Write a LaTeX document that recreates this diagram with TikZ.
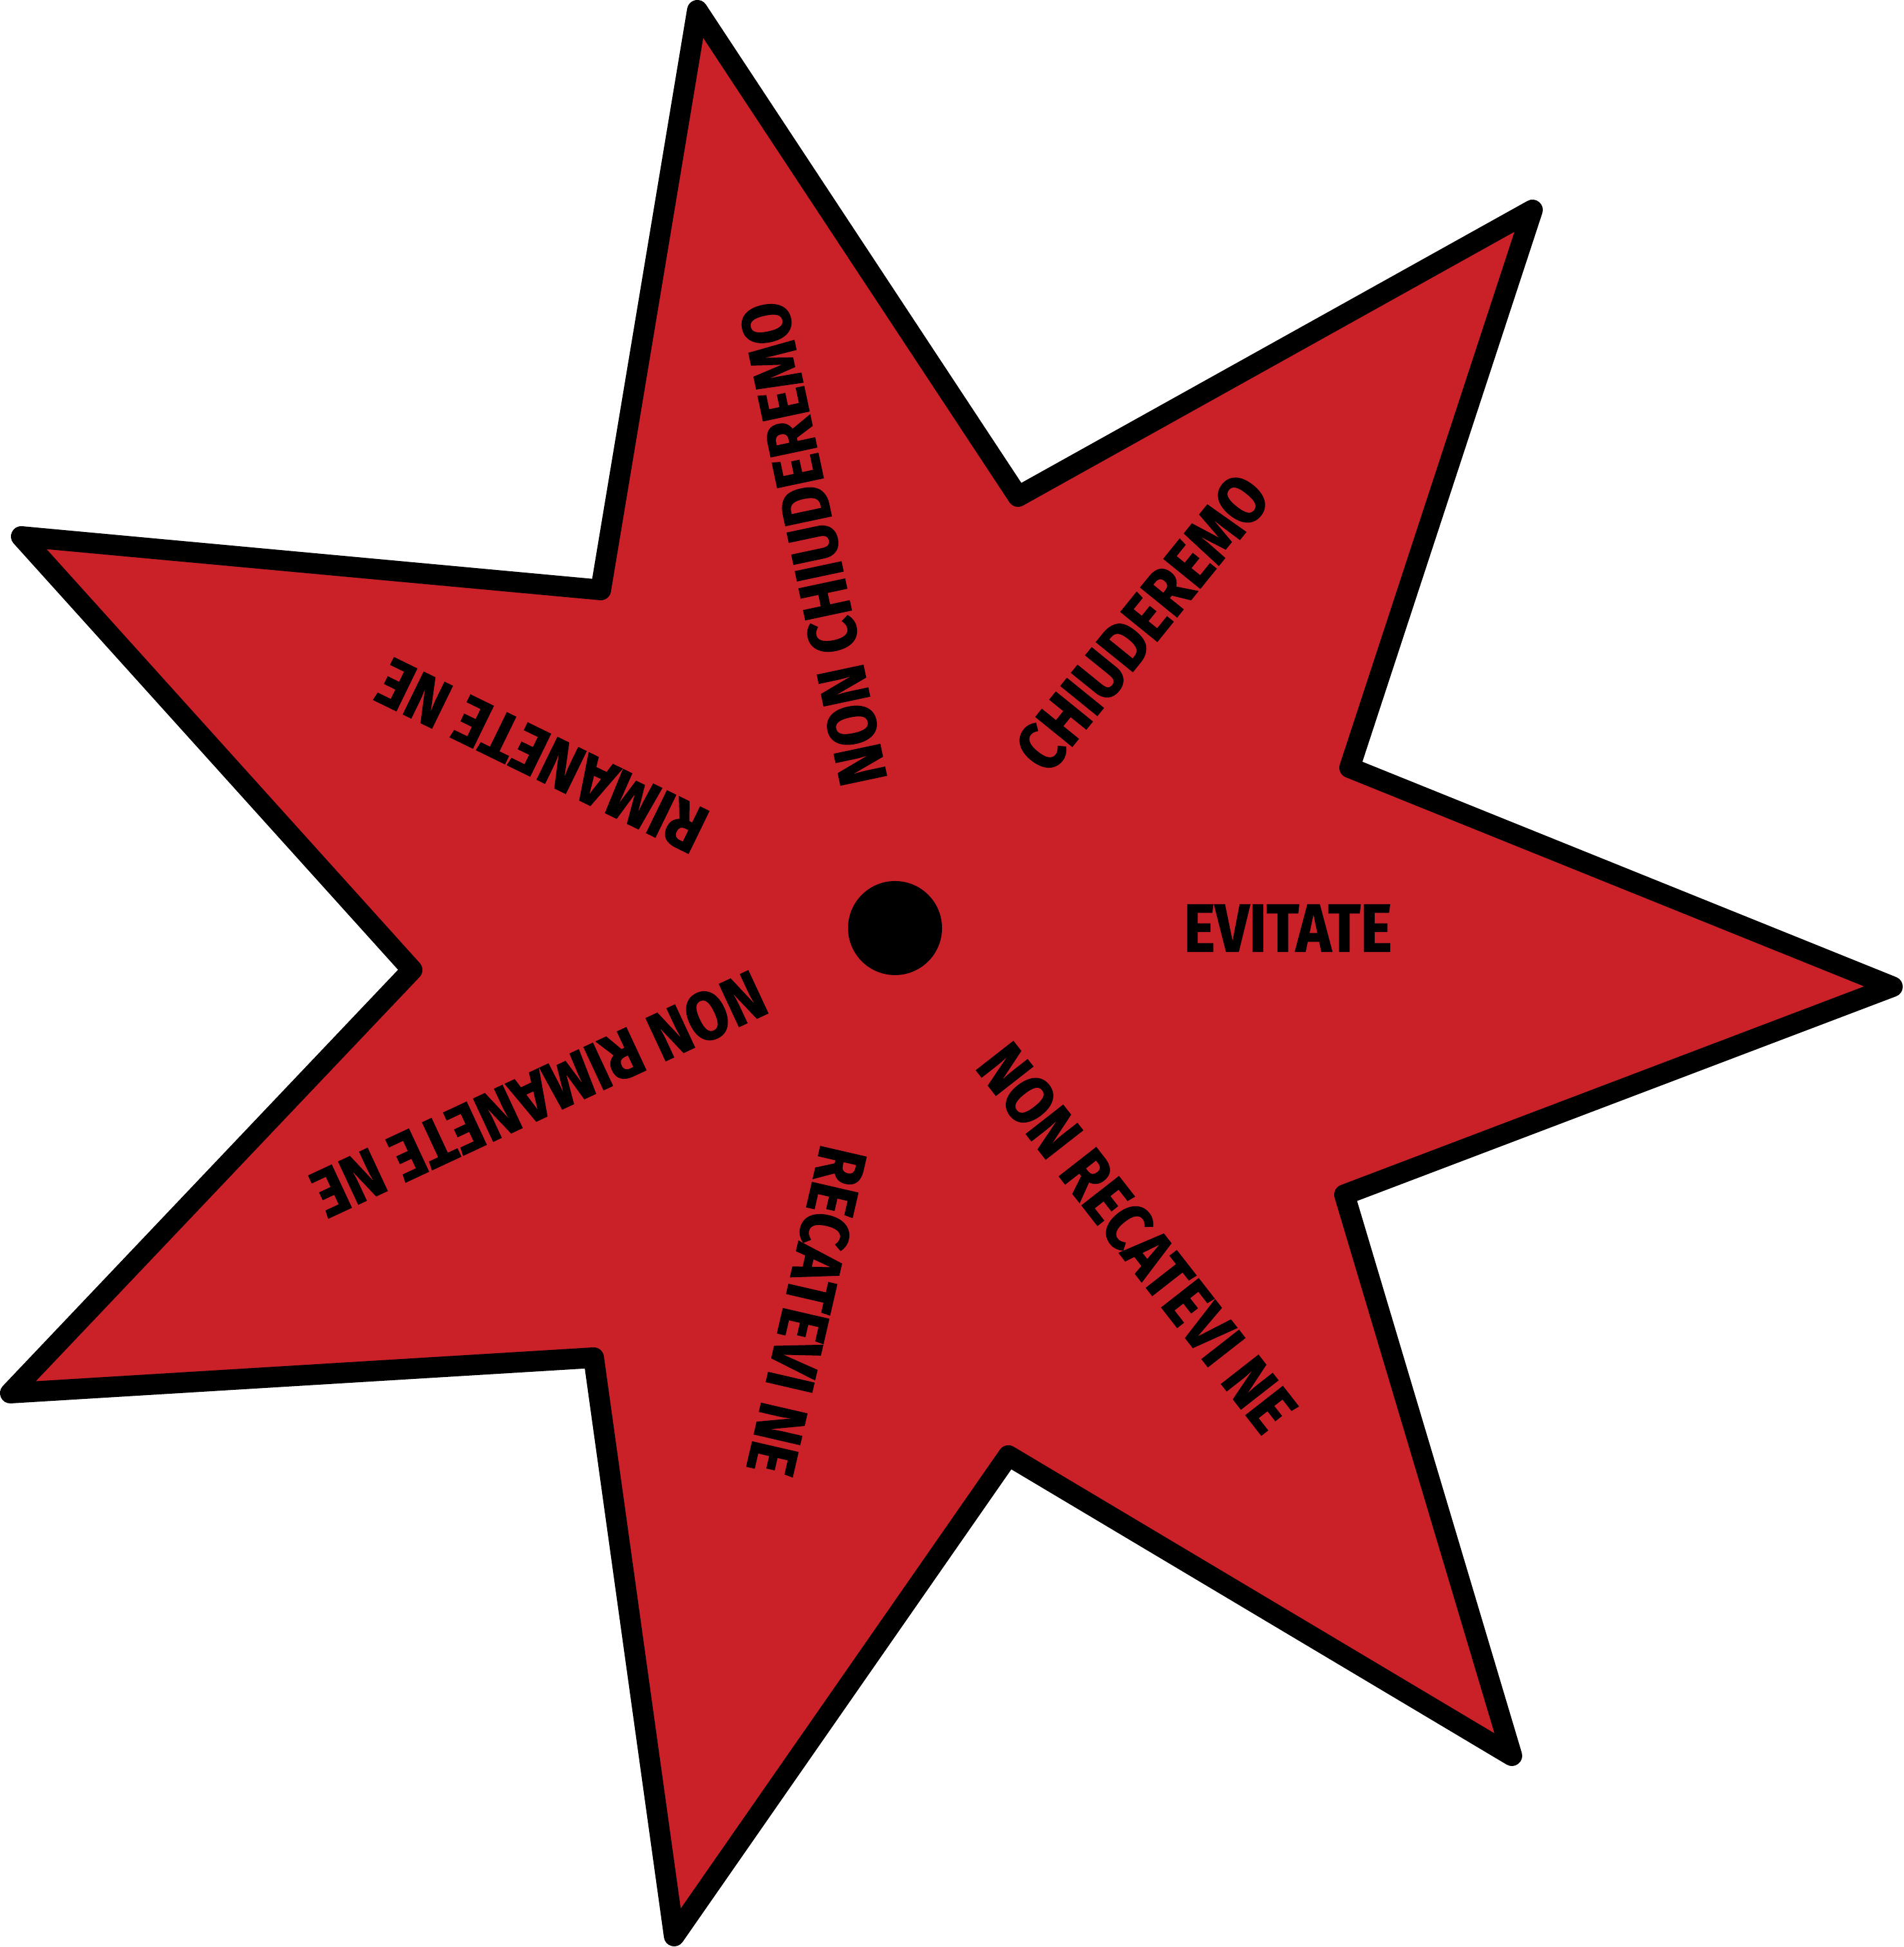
\documentclass[tikz,border=0pt]{standalone}
\usepackage{fontspec}
\newfontfamily\spinfont[FakeStretch=0.88, BoldFeatures={FakeBold=1.2}]{Fira Sans}
\usepackage{xcolor}
\definecolor{spinRed}{RGB}{202,33,41}
\tikzset{
  spokeword/.style={font=\spinfont\bfseries\fontsize{30}{30}\selectfont, inner sep=0pt, anchor=center},
  hubdot/.style={circle, fill=black, minimum size=1.46cm, inner sep=0pt},
}

\begin{document}
\begin{tikzpicture}
  \useasboundingbox (0,0) rectangle (29.56,30.23);
  % the star, seven points
  \draw[line width=0.32cm, line join=round, fill=spinRed]
    (10.83,30.07) -- (15.81,22.52) -- (23.80,26.97) -- (20.96,18.31) -- (29.39,14.91)
    -- (20.88,11.68) -- (23.48,2.97) -- (15.66,7.63) -- (10.47,0.17) -- (9.22,9.15)
    -- (0.16,8.60) -- (6.40,15.17) -- (0.33,21.90) -- (9.33,21.07) -- cycle;
  \node[hubdot] (hub) at (13.90,15.82) {};
  % one word per spoke, read outwards
  \foreach \ang/\word [count=\k] in {0/EVITATE, 51/CHIUDEREMO, 102/NON CHIUDEREMO,
      154/RIMANETE NE, 205/NON RIMANETE NE, 257/RECATEVI NE, 308/NON RECATEVI NE}{
    \path (hub) ++(\ang:6.1) node[spokeword, rotate=\ang] (word\k) {\word};
  }
\end{tikzpicture}
\end{document}
